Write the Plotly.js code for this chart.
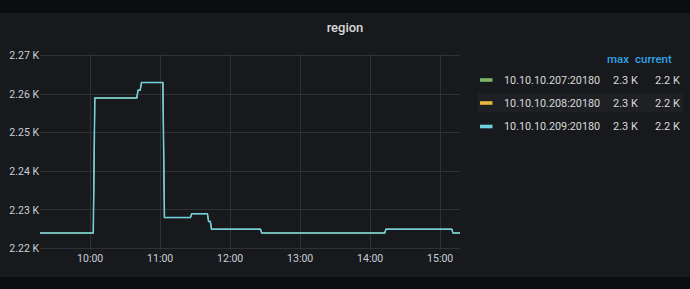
<!DOCTYPE html>
<html>
<head>
<meta charset="utf-8">
<script src="https://cdn.plot.ly/plotly-3.0.1.min.js"></script>
<style>
html,body{margin:0;padding:0;background:#0b0c0e;width:690px;height:289px;overflow:hidden;}
#chart{position:absolute;left:0;top:13px;width:690px;height:264px;}
</style>
</head>
<body>
<div id="chart"></div>
<script>
// ---- data ----
const times = [
  "2020-01-01 09:17:00","2020-01-01 10:02:40","2020-01-01 10:04:00","2020-01-01 10:40:00",
  "2020-01-01 10:41:00","2020-01-01 10:42:50","2020-01-01 10:44:00","2020-01-01 11:02:20",
  "2020-01-01 11:03:40","2020-01-01 11:26:00","2020-01-01 11:27:00","2020-01-01 11:40:30",
  "2020-01-01 11:41:30","2020-01-01 11:43:00","2020-01-01 11:44:00","2020-01-01 12:26:00",
  "2020-01-01 12:27:00","2020-01-01 14:12:30","2020-01-01 14:13:30","2020-01-01 15:10:00",
  "2020-01-01 15:11:00","2020-01-01 15:17:00"
];
const s207 = [2224,2224,2259,2259,2261,2261,2263,2263,2228,2228,2229,2229,2227,2227,2225,2225,2224,2224,2225,2225,2224,2224];
const s208 = [2224,2224,2259,2259,2261,2261,2263,2263,2228,2228,2229,2229,2227,2227,2225,2225,2224,2224,2225,2225,2224,2224];
const s209 = [2224,2224,2259,2259,2261,2261,2263,2263,2228,2228,2229,2229,2227,2227,2225,2225,2224,2224,2225,2225,2224,2224];
const seriesNames = ["10.10.10.207:20180","10.10.10.208:20180","10.10.10.209:20180"];
const seriesColors = ["#7EB26D","#EAB839","#6ED0E0"];
const yTickVals = [2220,2230,2240,2250,2260,2270];
const yTickText = ["2.22 K","2.23 K","2.24 K","2.25 K","2.26 K","2.27 K"];
const xRange = ["2020-01-01 09:17:00","2020-01-01 15:17:00"];
const legendHeaders = ["max","current"];

const allSeries = [s207, s208, s209];
function fmtK(v){ return (v/1000).toFixed(1) + " K"; }

const traces = allSeries.map((s,i)=>({
  x: times, y: s, type: "scatter", mode: "lines", name: seriesNames[i],
  line: {color: seriesColors[i], width: i === 2 ? 1.5 : 0.8}, hoverinfo: "skip"
}));

// layout geometry (pixels inside the 690x264 div)
const L = 40, R = 230, T = 41, B = 27;
const W = 690 - L - R, H = 264 - T - B;
const px = x => (x - L) / W;            // page x -> paper x
const py = y => (H + T - (y - 13)) / H; // page y -> paper y

const annotations = [];
const shapes = [];
const rowY = [80, 103, 126.5];
// highlighted row background
shapes.push({type:"rect", xref:"paper", yref:"paper", x0:px(478), x1:px(683), y0:py(112), y1:py(93.5),
  fillcolor:"#1e2024", line:{width:0}, layer:"below"});
annotations.push({xref:"paper", yref:"paper", x:px(631), y:py(59.5), text:legendHeaders[0], showarrow:false,
  xanchor:"right", yanchor:"middle", font:{family:"Roboto", size:11.5, color:"#33a2e5", weight:500}});
annotations.push({xref:"paper", yref:"paper", x:px(674), y:py(59.5), text:legendHeaders[1], showarrow:false,
  xanchor:"right", yanchor:"middle", font:{family:"Roboto", size:11.5, color:"#33a2e5", weight:500}});
allSeries.forEach((s,i)=>{
  const y = rowY[i];
  shapes.push({type:"rect", xref:"paper", yref:"paper", x0:px(480), x1:px(492.5), y0:py(y+1.8), y1:py(y-1.8),
    fillcolor:seriesColors[i], line:{width:0}});
  annotations.push({xref:"paper", yref:"paper", x:px(502), y:py(y), text:seriesNames[i], showarrow:false,
    xanchor:"left", yanchor:"middle", font:{family:"Roboto", size:10.8, color:"#d8d9da"}});
  annotations.push({xref:"paper", yref:"paper", x:px(639.5), y:py(y), text:fmtK(Math.max(...s)), showarrow:false,
    xanchor:"right", yanchor:"middle", font:{family:"Roboto", size:11, color:"#d8d9da"}});
  annotations.push({xref:"paper", yref:"paper", x:px(681.5), y:py(y), text:fmtK(s[s.length-1]), showarrow:false,
    xanchor:"right", yanchor:"middle", font:{family:"Roboto", size:11, color:"#d8d9da"}});
});

const layout = {
  width: 690, height: 264,
  margin: {l: L, r: R, t: T, b: B, pad: 0},
  paper_bgcolor: "#17191d",
  plot_bgcolor: "#17191d",
  showlegend: false,
  title: {text: "region", x: 0.5, xref: "container", y: 1 - 14/264, yref: "container",
    xanchor: "center", yanchor: "middle", font: {family: "Roboto", size: 13, color: "#d8d9da", weight: 500}},
  xaxis: {type: "date", range: xRange, tickformat: "%H:%M", dtick: 3600000, tick0: "2020-01-01 10:00:00",
    showgrid: true, gridcolor: "#2f3135", gridwidth: 1, zeroline: false, showline: false, ticks: "",
    tickfont: {family: "Roboto", size: 10.5, color: "#c7d0d9"}, fixedrange: true},
  yaxis: {range: [2219.6, 2270.4], tickvals: yTickVals, ticktext: yTickText,
    showgrid: true, gridcolor: "#2f3135", gridwidth: 1, zeroline: false, showline: false, ticks: "",
    tickfont: {family: "Roboto", size: 10.5, color: "#c7d0d9"}, fixedrange: true},
  shapes: shapes,
  annotations: annotations
};
Plotly.newPlot("chart", traces, layout, {displayModeBar: false, staticPlot: true});
</script>
</body>
</html>
